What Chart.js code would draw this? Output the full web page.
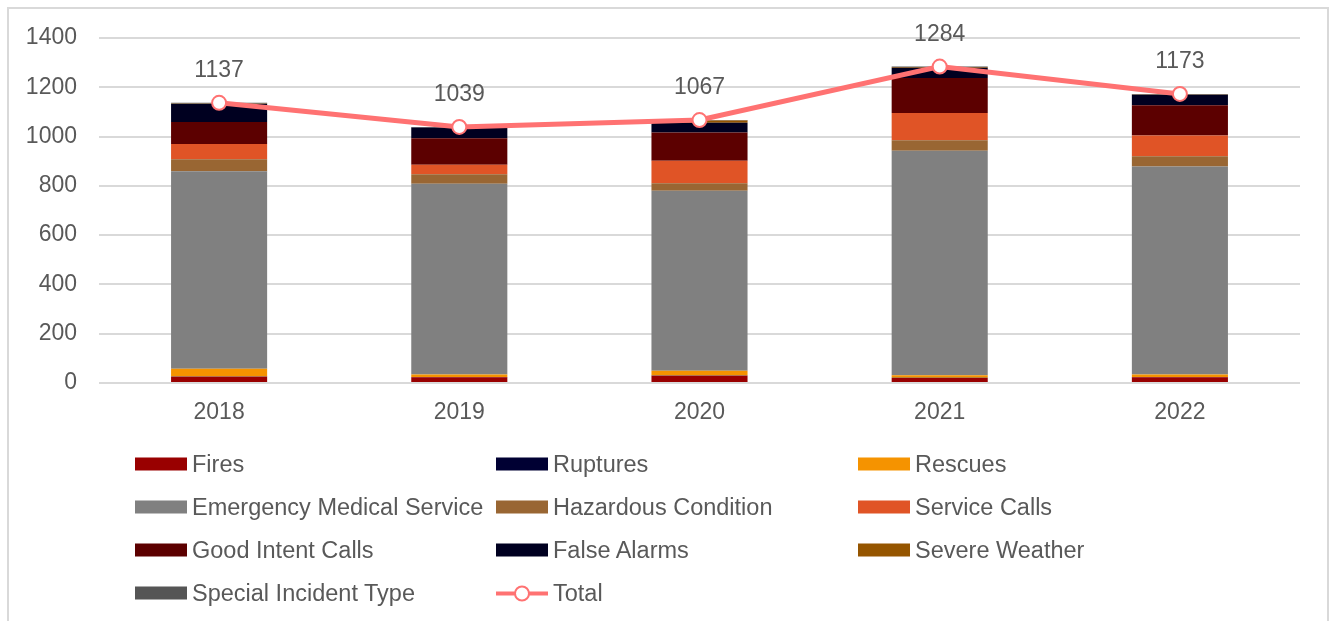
<!DOCTYPE html>
<html>
<head>
<meta charset="utf-8">
<script src="https://cdn.jsdelivr.net/npm/chart.js@4/dist/chart.umd.min.js"></script>
<style>
  html, body { margin: 0; padding: 0; background: #fff; }
  body { width: 1330px; height: 621px; position: relative; overflow: hidden;
         font-family: "Liberation Sans", Arial, sans-serif; color: #595959; }
  #frame { position: absolute; left: 7px; top: 7px; width: 1322px; height: 650px;
           border: 2px solid #d9d9d9; box-sizing: border-box; }
  #wrap { position: absolute; left: 0; top: 0; width: 1330px; height: 621px; }
  #legend { position: absolute; left: 0; top: 0; width: 1330px; height: 621px; pointer-events: none; }
  .item { position: absolute; display: flex; align-items: center; font-size: 23.5px; white-space: nowrap;
          transform: translateY(-50%); }
  .box { width: 52px; height: 13px; margin-right: 5px; }
  .ln { width: 52px; height: 16px; margin-right: 5px; position: relative; }
  .ln:before { content: ""; position: absolute; left: 0; right: 0; top: 6px; height: 4px; background: #ff7272; }
  .ln:after { content: ""; position: absolute; left: 18px; top: 0; width: 12px; height: 12px; border-radius: 50%;
              background: #fff; border: 2px solid #ff7272; }
</style>
</head>
<body>
<div id="frame"></div>
<div id="wrap"><canvas id="chart" width="1330" height="621"></canvas></div>
<div id="legend"></div>
<script>
/* ---------- data ---------- */
const years      = ["2018", "2019", "2020", "2021", "2022"];
const fires      = [25, 23, 29, 20, 23];
const ruptures   = [1, 1, 1, 1, 1];
const rescues    = [32, 10, 20, 10, 10];
const ems        = [801, 775, 730, 911, 845];
const hazardous  = [49, 38, 31, 43, 41];
const service    = [62, 39, 91, 111, 84];
const goodIntent = [89, 107, 115, 142, 123];
const falseAlarm = [73, 44, 39, 41, 43];
const severe     = [1, 0, 9, 3, 1];
const special    = [4, 2, 2, 2, 2];
const totals     = [1137, 1039, 1067, 1284, 1173];
const yTicks     = [0, 200, 400, 600, 800, 1000, 1200, 1400];

const FONT = "'Liberation Sans', Arial, sans-serif";
const TXT  = "#595959";
const LINE = "#ff7272";

const bars = [
  ["Fires", fires, "#990000"],
  ["Ruptures", ruptures, "#000033"],
  ["Rescues", rescues, "#f59300"],
  ["Emergency Medical Service", ems, "#808080"],
  ["Hazardous Condition", hazardous, "#996633"],
  ["Service Calls", service, "#e05426"],
  ["Good Intent Calls", goodIntent, "#5c0000"],
  ["False Alarms", falseAlarm, "#000020"],
  ["Severe Weather", severe, "#955500"],
  ["Special Incident Type", special, "#555555"]
];

const datasets = bars.map(([label, data, color]) => ({
  type: "bar", label, data, backgroundColor: color, order: 1,
  stack: "calls", barPercentage: 0.4, categoryPercentage: 1
}));
datasets.push({
  type: "line", label: "Total", data: totals, order: 0, stack: "total",
  borderColor: LINE, borderWidth: 5, backgroundColor: "#fff",
  pointRadius: 7, pointBorderWidth: 2, pointBorderColor: LINE, pointBackgroundColor: "#fff",
  tension: 0
});

/* data labels above the total line */
const totalLabels = {
  id: "totalLabels",
  afterDatasetsDraw(chart) {
    const ctx = chart.ctx;
    const idx = chart.data.datasets.length - 1;
    const meta = chart.getDatasetMeta(idx);
    ctx.save();
    ctx.font = "23px " + FONT;
    ctx.fillStyle = TXT;
    ctx.textAlign = "center";
    ctx.textBaseline = "middle";
    meta.data.forEach((pt, i) => ctx.fillText(String(totals[i]), pt.x, pt.y - 32));
    ctx.restore();
  }
};

const chart = new Chart(document.getElementById("chart"), {
  data: { labels: years, datasets },
  options: {
    responsive: false, animation: false,
    layout: { padding: { left: 0, top: 38, right: 30, bottom: 188 } },
    plugins: { legend: { display: false }, tooltip: { enabled: false } },
    scales: {
      x: {
        stacked: true,
        grid: { display: false, drawTicks: false },
        border: { display: false },
        ticks: { color: TXT, font: { family: FONT, size: 23 }, padding: 16 },
        afterFit: s => { s.height = 50; }
      },
      y: {
        stacked: true, min: 0, max: 1400,
        afterBuildTicks: s => { s.ticks = yTicks.map(v => ({ value: v })); },
        grid: { color: "#d9d9d9", lineWidth: 2, drawTicks: false },
        border: { display: false },
        ticks: { color: TXT, font: { family: FONT, size: 23 }, padding: 22, callback: v => String(v) },
        afterFit: s => { s.width = 99; }
      }
    }
  },
  plugins: [totalLabels]
});

/* ---------- legend (3 columns) ---------- */
const colX = [135, 496, 858];
const rowY = [464, 507, 550, 593];
const items = chart.data.datasets.map(d => ({ label: d.label, color: d.backgroundColor, line: d.type === "line" }));
const leg = document.getElementById("legend");
items.forEach((it, i) => {
  const el = document.createElement("div");
  el.className = "item";
  el.style.left = colX[i % 3] + "px";
  el.style.top = rowY[Math.floor(i / 3)] + "px";
  const mark = document.createElement("div");
  if (it.line) mark.className = "ln";
  else { mark.className = "box"; mark.style.background = it.color; }
  el.appendChild(mark);
  el.appendChild(document.createTextNode(it.label));
  leg.appendChild(el);
});
</script>
</body>
</html>
